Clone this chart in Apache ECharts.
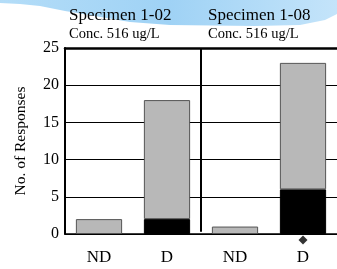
<!DOCTYPE html>
<html>
<head>
<meta charset="utf-8">
<script src="https://cdn.jsdelivr.net/npm/echarts@6/dist/echarts.min.js"></script>
<style>
  html, body { margin: 0; padding: 0; background: #fff; }
  #chart { width: 337px; height: 269px; }
</style>
</head>
<body>
<div id="chart"></div>
<script>
  // categories along the bottom, two specimens side by side
  var categories = ['ND', 'D', 'ND', 'D'];
  // black part of each bar (bottom) and grey part stacked on top
  var blackValues = [0, 2, 0, 6];
  var greyValues = [2, 16, 1, 17];
  var yTicks = [0, 5, 10, 15, 20, 25];
  var specimens = ['Specimen 1-02', 'Specimen 1-08'];
  var concLabels = ['Conc. 516 ug/L', 'Conc. 516 ug/L'];
  // diamond marker under the flagged category
  var markerIndex = 3;

  var serif = 'Liberation Serif';
  var chart = echarts.init(document.getElementById('chart'));

  // light blue swoosh at the top of the slide
  var wave = [[0, 0], [337, 0], [337, 14], [325, 20], [300, 25], [255, 26], [170, 25],
              [130, 22], [95, 16], [65, 11], [40, 6], [20, 4], [0, 3]];

  var option = {
    animation: false,
    backgroundColor: '#fff',
    textStyle: { fontFamily: serif },
    graphic: [
      {
        type: 'polygon', z: -10, silent: true,
        shape: { points: wave },
        style: {
          fill: new echarts.graphic.LinearGradient(0, 0, 1, 0, [
            { offset: 0, color: '#b4ddf8' },
            { offset: 0.5, color: '#9fd2f5' },
            { offset: 1, color: '#c4e4fa' }
          ])
        }
      },
      { type: 'text', left: 69, top: 7, style: { text: specimens[0], font: '17px "Liberation Serif"', fill: '#000' } },
      { type: 'text', left: 69, top: 27, style: { text: concLabels[0], font: '14.5px "Liberation Serif"', fill: '#000' } },
      { type: 'text', left: 208, top: 7, style: { text: specimens[1], font: '17px "Liberation Serif"', fill: '#000' } },
      { type: 'text', left: 208, top: 27, style: { text: concLabels[1], font: '14.5px "Liberation Serif"', fill: '#000' } }
    ],
    grid: { left: 65, right: -4, top: 48, bottom: 35, containLabel: false },
    xAxis: [
      {
        type: 'category',
        data: categories,
        axisLine: { lineStyle: { color: '#000', width: 1.5 } },
        axisTick: { show: false },
        axisLabel: { color: '#000', fontFamily: serif, fontSize: 17, margin: 15 }
      },
      {
        // hidden value axis used for the divider and the thick top border
        type: 'value', position: 'top', min: 0, max: 4,
        axisLine: { show: true, onZero: false, lineStyle: { color: '#000', width: 2.5 } },
        axisTick: { show: false }, axisLabel: { show: false }, splitLine: { show: false }
      }
    ],
    yAxis: {
      type: 'value', min: 0, max: 25, interval: 5,
      name: 'No. of Responses',
      nameLocation: 'middle', nameGap: 36, nameRotate: 90,
      nameTextStyle: { color: '#000', fontFamily: serif, fontSize: 15.5 },
      axisLine: { show: true, lineStyle: { color: '#000', width: 2 } },
      axisTick: { show: false },
      axisLabel: {
        color: '#000', fontFamily: serif, fontSize: 16, margin: 6,
        formatter: function (v) { return yTicks.indexOf(v) >= 0 ? String(v) : ''; }
      },
      splitLine: { show: true, lineStyle: { color: '#000', width: 1 } }
    },
    series: [
      {
        type: 'bar', stack: 'r', data: blackValues, barWidth: '68%',
        itemStyle: { color: '#000', borderColor: '#000', borderWidth: 1 }
      },
      {
        type: 'bar', stack: 'r', data: greyValues, barWidth: '68%',
        itemStyle: { color: '#b8b8b8', borderColor: '#555', borderWidth: 1 }
      },
      {
        type: 'line', xAxisIndex: 1, symbol: 'none',
        data: [[2, 0.3], [2, 25]],
        lineStyle: { color: '#000', width: 2 }
      },
      {
        type: 'scatter', clip: false, symbol: 'diamond', symbolSize: 9,
        data: [[markerIndex, -0.8]],
        itemStyle: { color: '#000' }
      }
    ]
  };

  chart.setOption(option);
</script>
</body>
</html>
